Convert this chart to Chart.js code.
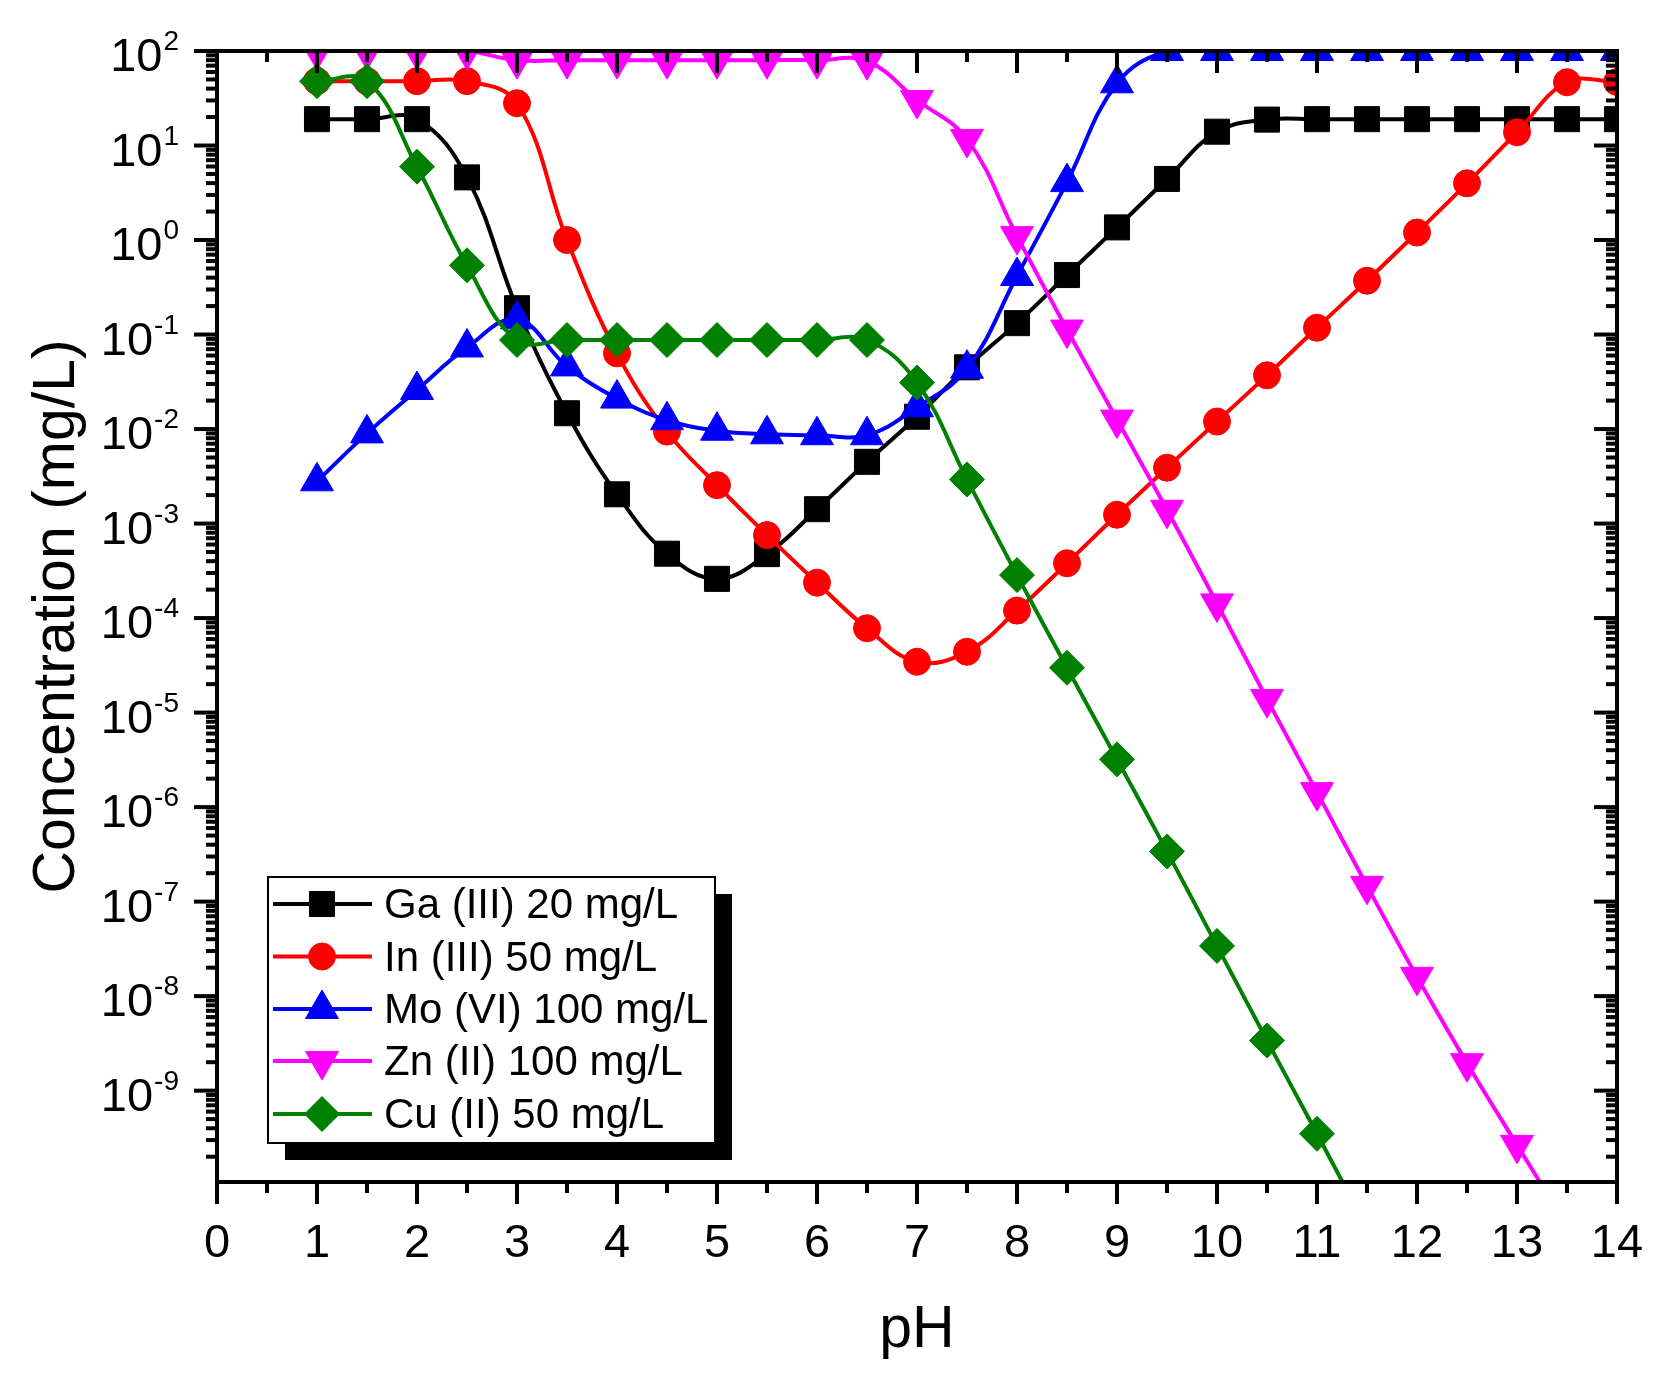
<!DOCTYPE html>
<html>
<head>
<meta charset="utf-8">
<script src="https://cdn.jsdelivr.net/npm/chart.js@4.4.0/dist/chart.umd.min.js"></script>
<style>
  html, body { margin: 0; padding: 0; background: #fff; }
  canvas { display: block; }
</style>
</head>
<body>
<canvas id="speciation" width="1659" height="1375"></canvas>
<script>
// pH grid shared by all series
const pH = [1,1.5,2,2.5,3,3.5,4,4.5,5,5.5,6,6.5,7,7.5,8,8.5,9,9.5,10,10.5,11,11.5,12,12.5,13,13.5,14];

// concentrations in mg/L
const gaValues = [19,19,19,4.6,0.19,0.0147,2.04e-3,4.8e-4,2.6e-4,4.75e-4,1.42e-3,4.5e-3,0.0135,0.045,0.132,0.426,1.36,4.43,14,18.8,19,19,19,19,19,19,19];
const inValues = [48,48,48,48,28,1.0,0.0632,9.4e-3,2.55e-3,7.55e-4,2.37e-4,7.8e-5,3.45e-5,4.4e-5,1.2e-4,3.8e-4,1.24e-3,3.9e-3,0.012,0.037,0.118,0.371,1.2,3.98,13.8,46.7,47];
const moValues = [2.8e-3,9.0e-3,0.0259,0.073,0.145,0.046,0.021,0.0124,9.6e-3,8.8e-3,8.6e-3,8.6e-3,0.017,0.0435,0.416,4.1,45.5,100,100,100,100,100,100,100,100,100,100];
const znValues = [100,100,100,100,80,80,80,80,80,80,80,78,30.3,11.7,1.1,0.113,0.0126,1.4e-3,1.43e-4,1.39e-5,1.44e-6,1.47e-7,1.6e-8,1.95e-9,2.67e-10,3.7e-11,null];
const cuValues = [48,48,5.97,0.54,0.0875,0.0875,0.0875,0.0875,0.0875,0.0875,0.0875,0.0875,0.031,2.93e-3,2.85e-4,2.98e-5,3.2e-6,3.4e-7,3.4e-8,3.4e-9,3.5e-10,3.5e-11,null,null,null,null,null];

const seriesNames = ["Ga (III) 20 mg/L","In (III) 50 mg/L","Mo (VI) 100 mg/L","Zn (II) 100 mg/L","Cu (II) 50 mg/L"];

// axis ticks
const xTickLabels = [0,1,2,3,4,5,6,7,8,9,10,11,12,13,14];
const yDecades = [2,1,0,-1,-2,-3,-4,-5,-6,-7,-8,-9];

const FONT = "'Liberation Sans', Arial, Helvetica, sans-serif";

function series(label, values, color, style, radius, rotation, order) {
  return {
    label: label,
    data: pH.map((p, i) => ({ x: p, y: values[i] })),
    borderColor: color,
    backgroundColor: color,
    pointBackgroundColor: color,
    pointBorderColor: color,
    pointStyle: style,
    pointRadius: radius,
    pointRotation: rotation,
    pointBorderWidth: 1,
    borderWidth: 4,
    tension: 0.4,
    order: order,
    clip: 0
  };
}

// ----- frame, ticks, labels drawn Origin style -----
const originAxes = {
  id: 'originAxes',
  afterDraw(chart) {
    const { ctx, chartArea: a, scales: { x, y } } = chart;
    ctx.save();
    ctx.strokeStyle = '#000';
    ctx.fillStyle = '#000';
    ctx.lineWidth = 4;
    ctx.strokeRect(a.left, a.top, a.right - a.left, a.bottom - a.top);

    const line = (x1, y1, x2, y2) => {
      ctx.beginPath(); ctx.moveTo(x1, y1); ctx.lineTo(x2, y2); ctx.stroke();
    };

    // x axis: major out at bottom, in at top
    ctx.lineWidth = 4;
    xTickLabels.forEach((v, i) => {
      const px = x.getPixelForValue(v);
      line(px, a.bottom, px, a.bottom + 22);
      line(px, a.top, px, a.top + 22);
      if (i < xTickLabels.length - 1) {
        const pm = x.getPixelForValue(v + 0.5);
        line(pm, a.bottom, pm, a.bottom + 11);
        line(pm, a.top, pm, a.top + 11);
      }
    });

    // y axis: major + minor (2..9 per decade)
    const minD = Math.floor(Math.log10(y.min));
    for (let d = minD; d <= 2; d++) {
      for (let k = 1; k <= 9; k++) {
        const v = k * Math.pow(10, d);
        if (v < y.min * 0.999 || v > y.max * 1.001) continue;
        const py = y.getPixelForValue(v);
        const len = k === 1 ? 23 : 11;
        line(a.left, py, a.left - len, py);
        line(a.right, py, a.right - len, py);
      }
    }

    // x labels
    ctx.font = '47px ' + FONT;
    ctx.textAlign = 'center';
    ctx.textBaseline = 'alphabetic';
    xTickLabels.forEach(v => {
      ctx.fillText(String(v), x.getPixelForValue(v), a.bottom + 75);
    });

    // y labels 10^n
    const right = a.left - 38;
    yDecades.forEach(d => {
      const py = y.getPixelForValue(Math.pow(10, d));
      const exp = String(d);
      ctx.font = '28px ' + FONT;
      const ew = ctx.measureText(exp).width;
      ctx.textAlign = 'right';
      ctx.fillText(exp, right, py - 1);
      ctx.font = '47px ' + FONT;
      ctx.fillText('10', right - ew - 1, py + 20);
    });

    // axis titles
    ctx.font = '59px ' + FONT;
    ctx.textAlign = 'center';
    ctx.fillText('pH', (a.left + a.right) / 2, 1347);
    ctx.save();
    ctx.translate(74, (a.top + a.bottom) / 2);
    ctx.rotate(-Math.PI / 2);
    ctx.fillText('Concentration (mg/L)', 0, 0);
    ctx.restore();

    // legend box with drop shadow
    const box = { l: 268, t: 877, r: 715, b: 1143 };
    ctx.fillRect(box.l + 17, box.t + 17, box.r - box.l, box.b - box.t);
    ctx.fillStyle = '#fff';
    ctx.fillRect(box.l, box.t, box.r - box.l, box.b - box.t);
    ctx.lineWidth = 2;
    ctx.strokeRect(box.l, box.t, box.r - box.l, box.b - box.t);

    const rowY = [904, 956.5, 1009, 1061, 1114];
    chart.data.datasets.forEach((ds, i) => {
      const ry = rowY[i];
      ctx.strokeStyle = ds.borderColor;
      ctx.fillStyle = ds.borderColor;
      ctx.lineWidth = 4;
      line(273, ry, 372, ry);
      ctx.lineWidth = 1;
      Chart.helpers.drawPoint(ctx, {
        pointStyle: ds.pointStyle, rotation: ds.pointRotation,
        radius: ds.pointRadius, borderWidth: 1
      }, 322, ry);
      ctx.fillStyle = '#000';
      ctx.font = '42px ' + FONT;
      ctx.textAlign = 'left';
      ctx.fillText(seriesNames[i], 384, ry + 14);
    });
    ctx.restore();
  }
};

new Chart("speciation", {
  type: "line",
  data: {
    datasets: [
      series(seriesNames[0], gaValues, "#000000", "rect", 17.7, 0, 5),
      series(seriesNames[1], inValues, "#ff0000", "circle", 13.5, 0, 4),
      series(seriesNames[2], moValues, "#0000ff", "triangle", 19, 0, 3),
      series(seriesNames[3], znValues, "#ff00ff", "triangle", 19, 180, 2),
      series(seriesNames[4], cuValues, "#008000", "rectRot", 17.5, 0, 1)
    ]
  },
  options: {
    responsive: false,
    animation: false,
    devicePixelRatio: 1,
    events: [],
    layout: { padding: { left: 217, right: 42, top: 51, bottom: 193 } },
    elements: { line: { capBezierPoints: false } },
    plugins: { legend: { display: false }, tooltip: { enabled: false } },
    scales: {
      x: { type: "linear", min: 0, max: 14, display: false },
      y: { type: "logarithmic", min: 1.08e-10, max: 100, display: false }
    }
  },
  plugins: [originAxes]
});
</script>
</body>
</html>
